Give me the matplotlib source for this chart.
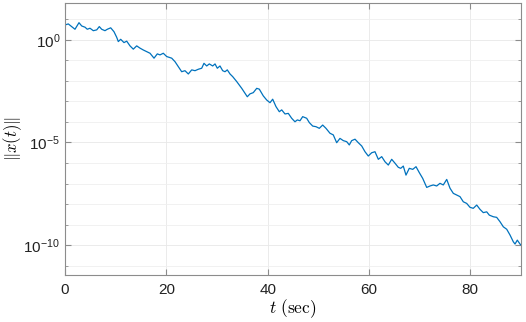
import numpy as np
import matplotlib
matplotlib.use("Agg")
import matplotlib.pyplot as plt
from matplotlib.ticker import FixedLocator, NullFormatter

plt.rcParams['font.family'] = ['Liberation Sans', 'DejaVu Sans']
plt.rcParams['mathtext.fontset'] = 'cm'

# time samples (sec)
t = [0.0, 0.65, 1.32, 1.97, 2.76, 3.30, 3.95, 4.40, 4.93, 5.59,
     6.26, 6.77, 7.24, 7.89, 8.35, 9.02, 9.67, 10.20, 10.52, 10.99,
     11.64, 12.18, 12.83, 13.48, 14.15, 14.80, 15.45, 16.12, 16.78, 17.57,
     18.22, 18.75, 19.40, 20.07, 21.06, 21.71, 22.36, 23.03, 23.68, 24.34,
     25.01, 25.66, 26.31, 26.98, 27.43, 27.97, 28.48, 29.15, 29.61, 30.06,
     30.59, 31.12, 31.58, 32.03, 32.57, 33.10, 33.89, 34.88, 35.53, 35.98,
     36.51, 37.16, 37.84, 38.35, 39.14, 39.81, 40.46, 40.99, 41.64, 42.30,
     42.77, 43.42, 44.07, 44.74, 45.39, 45.85, 46.38, 46.91, 47.70, 48.22,
     48.89, 49.54, 50.19, 50.86, 51.51, 52.30, 52.95, 53.62, 54.27, 54.93,
     55.60, 56.11, 56.58, 57.24, 57.89, 58.56, 59.21, 59.86, 60.53, 61.18,
     61.84, 62.51, 63.16, 63.81, 64.48, 65.13, 65.78, 66.26, 66.77, 67.30,
     67.95, 68.63, 69.28, 69.93, 70.60, 71.39, 72.04, 72.69, 73.36, 74.01,
     74.66, 75.34, 75.99, 76.64, 77.31, 77.96, 78.61, 79.28, 79.93, 80.58,
     81.26, 81.91, 82.56, 83.23, 83.74, 84.53, 85.20, 85.85, 86.51, 87.18,
     87.83, 88.48, 88.82, 89.27, 89.80, 90.0]

# log10 of ||x(t)||
log_norm = [0.73, 0.78, 0.65, 0.52, 0.84, 0.68, 0.62, 0.52, 0.57, 0.45,
            0.49, 0.65, 0.52, 0.45, 0.52, 0.59, 0.40, 0.13, -0.08, 0.03,
            -0.13, -0.06, -0.29, -0.45, -0.29, -0.40, -0.49, -0.57, -0.65, -0.89,
            -0.68, -0.73, -0.65, -0.81, -0.89, -1.06, -1.30, -1.55, -1.50, -1.66,
            -1.46, -1.50, -1.43, -1.38, -1.14, -1.27, -1.17, -1.27, -1.17, -1.38,
            -1.27, -1.50, -1.55, -1.46, -1.66, -1.79, -2.03, -2.36, -2.60, -2.77,
            -2.63, -2.57, -2.36, -2.40, -2.73, -2.93, -3.06, -2.89, -3.25, -3.50,
            -3.41, -3.61, -3.58, -3.82, -3.99, -3.90, -3.94, -3.74, -3.82, -4.03,
            -4.20, -4.23, -4.31, -4.15, -4.31, -4.55, -4.63, -5.01, -4.80, -4.91,
            -4.96, -5.12, -4.91, -4.84, -5.01, -5.17, -5.45, -5.66, -5.50, -5.45,
            -5.82, -5.69, -5.94, -6.10, -5.82, -6.01, -6.21, -6.26, -6.15, -6.59,
            -6.26, -6.31, -6.18, -6.47, -6.75, -7.19, -7.12, -7.07, -7.12, -6.99,
            -7.07, -6.80, -7.23, -7.48, -7.56, -7.64, -7.89, -7.97, -8.16, -8.21,
            -8.05, -8.26, -8.42, -8.38, -8.54, -8.62, -8.65, -8.86, -9.11, -9.23,
            -9.51, -9.84, -9.95, -9.76, -9.95, -10.0]

x_ticks = [0, 20, 40, 60, 80]
y_major = [1e0, 1e-5, 1e-10]
y_major_labels = [r'$\mathregular{10^{0}}$', r'$\mathregular{10^{-5}}$', r'$\mathregular{10^{-10}}$']

fig = plt.figure(figsize=(5.26, 3.22), dpi=100)
ax = fig.add_axes([65 / 526, 1 - 275 / 322, 456 / 526, 272 / 322])

ax.semilogy(t, 10.0 ** np.array(log_norm), color='#0072BD', lw=0.9)

ax.set_xlim(0, 90)
ax.set_ylim(10 ** -11.46, 10 ** 1.80)
ax.set_xticks(x_ticks)
ax.yaxis.set_major_locator(FixedLocator(y_major))
ax.set_yticklabels(y_major_labels)
ax.yaxis.set_minor_locator(FixedLocator([10.0 ** k for k in range(-11, 2)]))
ax.yaxis.set_minor_formatter(NullFormatter())

ax.grid(True, which='major', color='#e8e8e8', lw=0.6)
ax.grid(True, which='minor', axis='y', color='#efefef', lw=0.6)
ax.set_axisbelow(True)

for s in ax.spines.values():
    s.set_color('#8c8c8c')
    s.set_linewidth(0.8)
ax.tick_params(which='both', direction='in', top=True, right=True, colors='#8c8c8c',
               labelcolor='#222222', labelsize=11)
ax.tick_params(which='major', length=4)
ax.tick_params(which='minor', length=2.5)
ax.tick_params(axis='x', pad=6)

ax.set_xlabel(r'$t\ \mathrm{(sec)}$', fontsize=12.5, labelpad=0)
ax.set_ylabel(r'$\|x(t)\|$', fontsize=12)
ax.yaxis.set_label_coords(-0.09, 0.5)

fig.savefig('out.png', dpi=100)
